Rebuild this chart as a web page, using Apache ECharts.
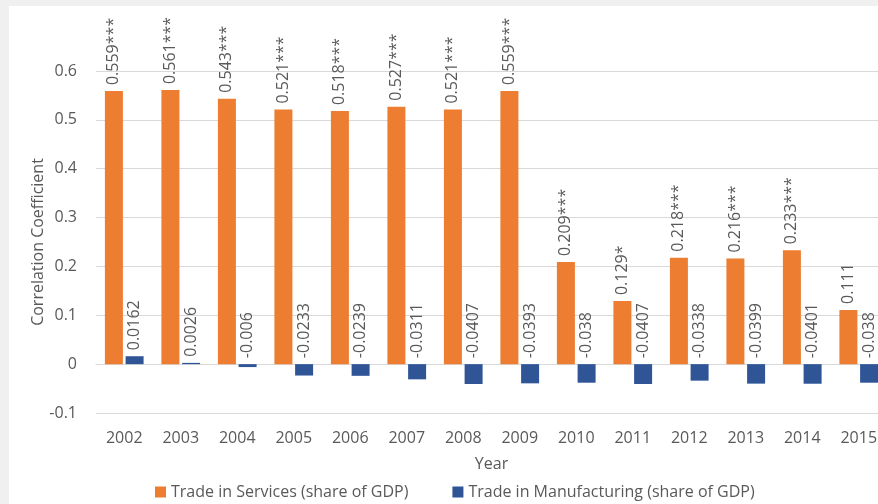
<!DOCTYPE html>
<html>
<head>
<meta charset="utf-8">
<script src="https://cdn.jsdelivr.net/npm/echarts@6/dist/echarts.min.js"></script>
<style>
  html, body { margin: 0; padding: 0; background: #f0f0f0; }
  body { width: 878px; height: 504px; position: relative; overflow: hidden; }
  #chart { position: absolute; left: 9px; top: 6px; width: 869px; height: 498px; background: #ffffff; }
</style>
</head>
<body>
<div id="chart"></div>
<script>
// Correlation coefficients by year
const years = ['2002', '2003', '2004', '2005', '2006', '2007', '2008', '2009',
               '2010', '2011', '2012', '2013', '2014', '2015'];
const servicesValues = [0.559, 0.561, 0.543, 0.521, 0.518, 0.527, 0.521, 0.559,
                        0.209, 0.129, 0.218, 0.216, 0.233, 0.111];
const servicesStars = ['***', '***', '***', '***', '***', '***', '***', '***',
                       '***', '*', '***', '***', '***', ''];
const manufacturingValues = [0.0162, 0.0026, -0.006, -0.0233, -0.0239, -0.0311, -0.0407, -0.0393,
                             -0.038, -0.0407, -0.0338, -0.0399, -0.0401, -0.038];
const manufacturingStars = ['', '', '', '', '', '', '', '', '', '', '', '', '', ''];
const yTicks = { min: -0.1, max: 0.6, step: 0.1 };

const textColor = '#595959';
const fontFamily = '"Open Sans", "Liberation Sans", sans-serif';

function barLabel(stars) {
  return {
    show: true,
    position: 'top',
    rotate: 90,
    align: 'left',
    verticalAlign: 'middle',
    distance: 6,
    color: textColor,
    fontFamily: fontFamily,
    fontSize: 16,
    formatter: p => String(p.value) + stars[p.dataIndex]
  };
}

const chart = echarts.init(document.getElementById('chart'), null, { renderer: 'canvas' });
chart.setOption({
  animation: false,
  textStyle: { fontFamily: fontFamily, color: textColor },
  // the plot runs past the right edge of the canvas, so its width is fixed
  grid: { left: 87, width: 791, top: 65, bottom: 91, containLabel: false, outerBoundsMode: 'none' },
  legend: {
    left: 141,
    top: 473,
    itemWidth: 11,
    itemHeight: 11,
    itemGap: 44,
    icon: 'rect',
    textStyle: { color: textColor, fontSize: 16, fontFamily: fontFamily },
    data: ['Trade in Services (share of GDP)', 'Trade in Manufacturing (share of GDP)']
  },
  xAxis: {
    type: 'category',
    data: years,
    name: 'Year',
    nameLocation: 'middle',
    nameGap: 43,
    nameMoveOverlap: false,
    nameTextStyle: { color: textColor, fontSize: 16, fontFamily: fontFamily },
    axisLine: { show: true, onZero: true, lineStyle: { color: '#d9d9d9', width: 1 } },
    axisTick: { show: false },
    axisLabel: { color: textColor, fontSize: 16, fontFamily: fontFamily, margin: 17 },
    splitLine: { show: false }
  },
  yAxis: {
    type: 'value',
    min: yTicks.min,
    max: yTicks.max,
    interval: yTicks.step,
    name: 'Correlation Coefficient',
    nameLocation: 'middle',
    nameGap: 50,
    nameMoveOverlap: false,
    nameTextStyle: { color: textColor, fontSize: 16, fontFamily: fontFamily },
    axisLine: { show: false },
    axisTick: { show: false },
    axisLabel: {
      color: textColor, fontSize: 16, fontFamily: fontFamily, margin: 19,
      formatter: v => String(Math.round(v * 10) / 10)
    },
    splitLine: { show: true, lineStyle: { color: '#d9d9d9', width: 1 } }
  },
  series: [
    {
      name: 'Trade in Services (share of GDP)',
      type: 'bar',
      data: servicesValues,
      barWidth: 18,
      barGap: '15%',
      itemStyle: { color: '#ed7d31' },
      label: barLabel(servicesStars)
    },
    {
      name: 'Trade in Manufacturing (share of GDP)',
      type: 'bar',
      data: manufacturingValues,
      barWidth: 18,
      barGap: '15%',
      itemStyle: { color: '#2f5597' },
      label: barLabel(manufacturingStars)
    }
  ]
});
</script>
</body>
</html>
